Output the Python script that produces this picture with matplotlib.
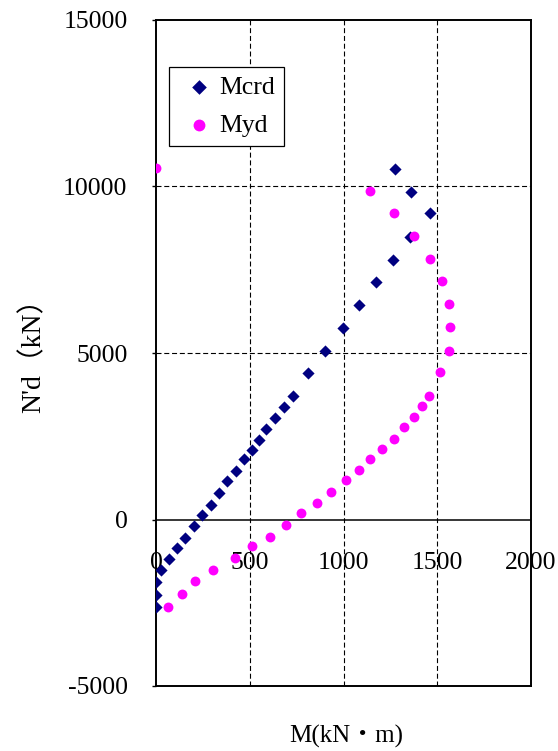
import matplotlib
matplotlib.use("Agg")
import matplotlib.pyplot as plt
import matplotlib.transforms as mtransforms

# ---- data ----
mcrd_M = [1273, 1362, 1459, 1356, 1264, 1175, 1083, 997, 902, 813, 728, 682, 635, 589, 547,
          511, 469, 426, 380, 335, 291, 245, 202, 156, 113, 71, 25, 0, 0, 0]
mcrd_N = [10532, 9829, 9199, 8489, 7788, 7138, 6447, 5745, 5054, 4405, 3703, 3384, 3042, 2724, 2393,
          2081, 1802, 1450, 1150, 802, 441, 150, -201, -550, -850, -1180, -1522, -1871, -2273, -2634]
myd_M = [0, 1143, 1267, 1374, 1463, 1523, 1560, 1569, 1560, 1516, 1455, 1418, 1374, 1321, 1267,
         1207, 1143, 1081, 1013, 932, 861, 772, 692, 607, 510, 421, 305, 208, 137, 65]
myd_N = [10560, 9860, 9210, 8508, 7817, 7168, 6477, 5766, 5075, 4424, 3715, 3414, 3072, 2772, 2432,
         2132, 1822, 1481, 1180, 832, 490, 201, -159, -520, -801, -1151, -1511, -1852, -2252, -2613]
x_ticks = [0, 500, 1000, 1500, 2000]
y_ticks = [-5000, 0, 5000, 10000, 15000]
series_names = ["Mcrd", "Myd"]

serif = ["Liberation Serif", "Noto Sans CJK JP", "DejaVu Sans"]
plt.rcParams["font.family"] = serif
plt.rcParams["axes.unicode_minus"] = False

fig = plt.figure(figsize=(5.58, 7.51), dpi=100)
ax = fig.add_axes([156/558, 1-686/751, 375/558, 666/751])

ax.set_xlim(0, 2000)
ax.set_ylim(-5000, 15000)
ax.set_xticks(x_ticks)
ax.set_yticks(y_ticks)

dash = (0, (4.5, 2.5))
for xv in x_ticks[1:-1]:
    ax.axvline(xv, color="black", lw=0.8, linestyle=dash, zorder=1)
for yv in [5000, 10000]:
    ax.axhline(yv, color="black", lw=0.8, linestyle=dash, zorder=1)
ax.axhline(0, color="black", lw=1.1, zorder=2)

ax.scatter(mcrd_M, mcrd_N, marker="D", s=6.2**2, color="#000080", linewidths=0,
           zorder=3, label=series_names[0])
ax.scatter(myd_M, myd_N, marker="o", s=7.1**2, color="#FF00FF", linewidths=0,
           zorder=4, label=series_names[1])

for sp in ax.spines.values():
    sp.set_linewidth(1.4)
    sp.set_color("black")

ax.tick_params(axis="y", direction="out", length=3, width=1, pad=17.5, labelsize=18.5)
ax.tick_params(axis="x", length=0, pad=23.5, labelsize=18.5)

ax.set_xlabel("M(kN・m)", fontsize=18, family=serif)
ax.xaxis.set_label_coords(0.507, -0.058)
ax.set_ylabel("N'd（kN）", fontsize=20, family=serif)
ax.yaxis.set_label_coords(-0.293, 0.506)

# x tick labels sit just under the N=0 line (axis crosses at 0)
offset = mtransforms.ScaledTranslation(0, (0 - (-5000)) / 20000 * 666 / 100, fig.dpi_scale_trans)
for lab in ax.get_xticklabels():
    lab.set_transform(lab.get_transform() + offset)

leg = ax.legend(loc="upper left", bbox_to_anchor=((169-156)/375, (686-66.7)/666),
                borderaxespad=0, fontsize=18.5, frameon=True, fancybox=False,
                edgecolor="black", framealpha=1, borderpad=0.35, handlelength=1.6,
                handletextpad=0.0, labelspacing=0.58, markerscale=1.2)
leg.get_frame().set_linewidth(0.9)

fig.savefig("out.png", dpi=100)
